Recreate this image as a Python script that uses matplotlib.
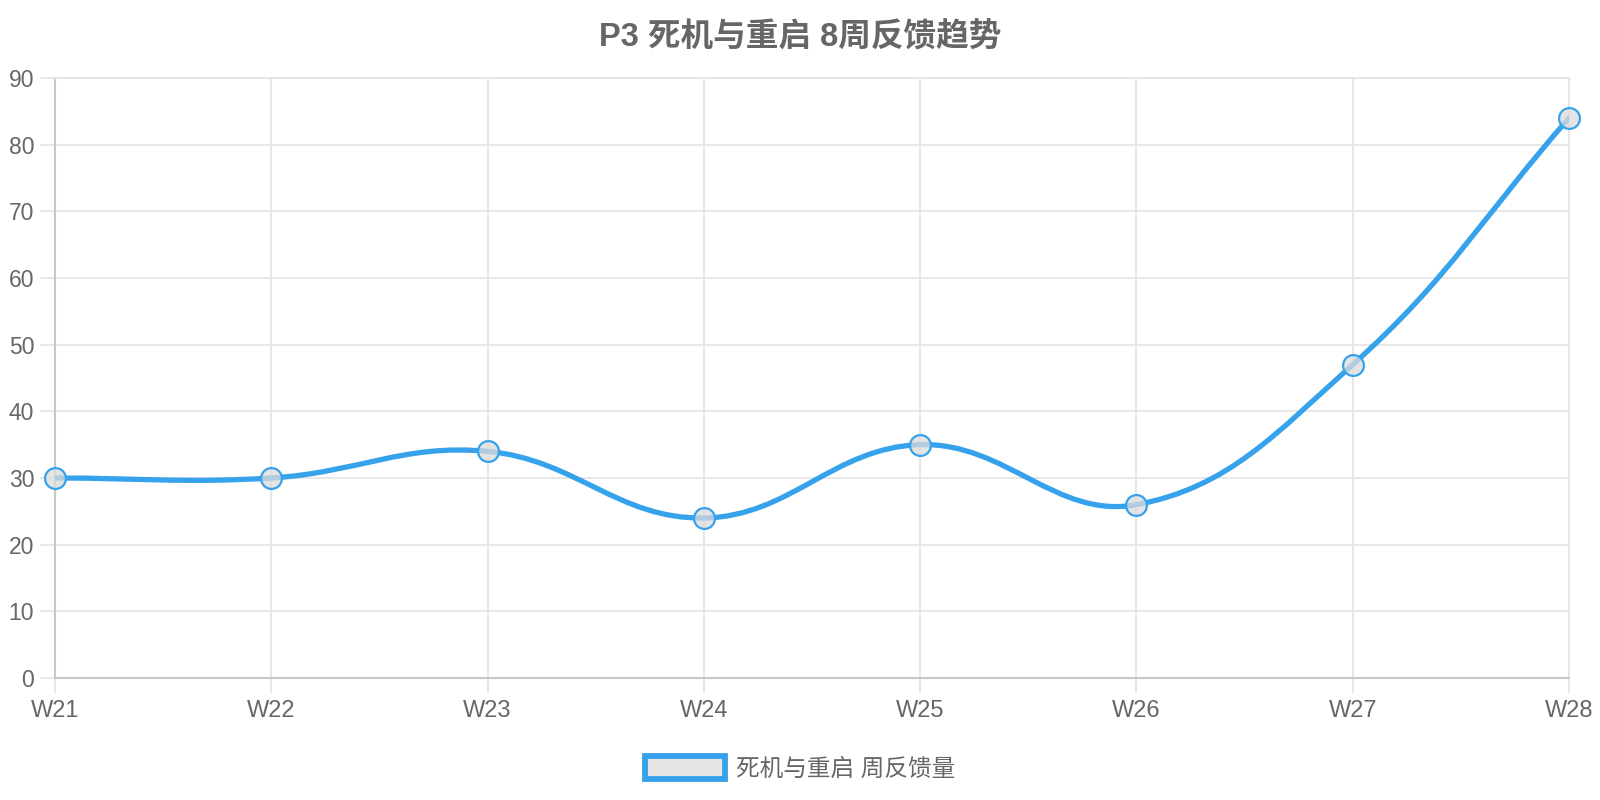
import matplotlib
matplotlib.use('Agg')
import matplotlib.pyplot as plt
from matplotlib.path import Path
import matplotlib.patches as patches
import numpy as np

plt.rcParams['font.family'] = ['Liberation Sans', 'Noto Sans CJK SC', 'DejaVu Sans']

# Data
weeks = ['W21', 'W22', 'W23', 'W24', 'W25', 'W26', 'W27', 'W28']
feedback = [30, 30, 34, 24, 35, 26, 47, 84]
series_label = '死机与重启 周反馈量'
title = 'P3 死机与重启 8周反馈趋势'

line_color = '#36A2EB'
text_color = '#666666'
grid_color = '#E5E5E5'
axis_color = '#C8C8C8'


def spline_path(ax, xs, ys, tension=0.4):
    """Chart.js style bezier smoothing, done in display space"""
    pts = ax.transData.transform(np.column_stack([xs, ys]))
    n = len(pts)
    cps = []
    for i in range(n):
        prev = pts[max(i - 1, 0)]
        cur = pts[i]
        nxt = pts[min(i + 1, n - 1)]
        d01 = np.hypot(*(cur - prev))
        d12 = np.hypot(*(nxt - cur))
        tot = d01 + d12
        s01 = d01 / tot if tot else 0
        s12 = d12 / tot if tot else 0
        fa = tension * s01
        fb = tension * s12
        cps.append((cur - fa * (nxt - prev), cur + fb * (nxt - prev)))
    verts = [pts[0]]
    codes = [Path.MOVETO]
    for i in range(1, n):
        verts += [cps[i - 1][1], cps[i][0], pts[i]]
        codes += [Path.CURVE4] * 3
    inv = ax.transData.inverted()
    return Path(inv.transform(np.array(verts)), codes)


fig = plt.figure(figsize=(16, 8), dpi=100)
ax = fig.add_axes([55 / 1600, 1 - 678 / 800, 1514 / 1600, 600 / 800])

x = np.arange(len(weeks))
ax.set_xlim(0, len(weeks) - 1)
ax.set_ylim(0, 90)
ax.set_xticks(x)
ax.set_xticklabels(weeks)
ax.set_yticks(np.arange(0, 91, 10))

ax.grid(True, color=grid_color, linewidth=1.3)
ax.set_axisbelow(True)
for side in ['top', 'right']:
    ax.spines[side].set_color(grid_color)
    ax.spines[side].set_linewidth(1.3)
for side in ['left', 'bottom']:
    ax.spines[side].set_color(axis_color)
    ax.spines[side].set_linewidth(1.5)

ax.tick_params(axis='both', length=11, width=1.3, color=grid_color,
               labelcolor=text_color)
ax.tick_params(axis='x', labelsize=17, pad=5)
ax.tick_params(axis='y', labelsize=16.5, pad=4)

path = spline_path(ax, x, feedback)
ax.add_patch(patches.PathPatch(path, facecolor='none', edgecolor=line_color,
                               linewidth=3.8, capstyle='round', zorder=3))
ax.plot(x, feedback, linestyle='none', marker='o', markersize=15,
        markerfacecolor=(0.86, 0.86, 0.86, 0.75), markeredgecolor=line_color,
        markeredgewidth=1.6, zorder=4, clip_on=False)

fig.text(0.5, 1 - 38 / 800, title, ha='center', va='center',
         fontsize=23.5, fontweight='bold', color=text_color)

handle = patches.Patch(facecolor='#E6E6E6', edgecolor=line_color,
                       linewidth=4.2, label=series_label)
fig.legend(handles=[handle], loc='center', bbox_to_anchor=(0.5, 1 - 768 / 800),
           frameon=False, fontsize=17, handlelength=3.4, handleheight=1.15,
           handletextpad=0.45, labelcolor=text_color)

fig.savefig('out.png', dpi=100)
